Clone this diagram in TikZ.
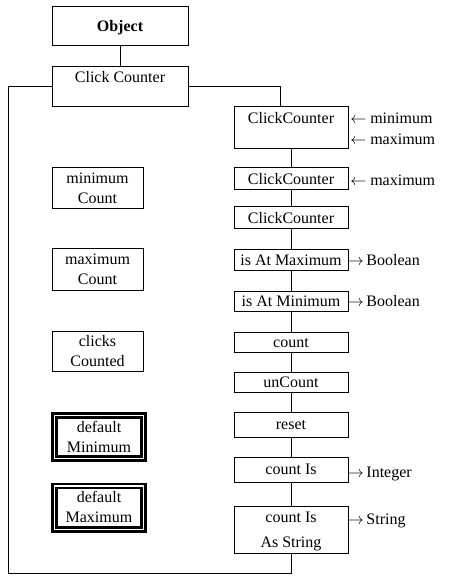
\documentclass[tikz,border=0pt]{standalone}
\usepackage{fontspec}
\setmainfont{Liberation Serif}
\begin{document}
\begin{tikzpicture}[x=0.75pt,y=-0.75pt,
  every node/.style={font=\fontsize{12}{15}\selectfont},
  box/.style={draw,line width=0.75pt,rectangle,inner sep=1pt,text height=2ex,text depth=.3ex},
  rbox/.style={box,minimum width=85.5pt},
  two/.style={text height={15pt+2ex},text depth=.3ex},
  lbox/.style={draw,line width=0.75pt,rectangle,inner sep=1pt,minimum width=68.25pt,align=center,two},
  dbox/.style={draw,line width=1.9pt,double,double distance=1.1pt,rectangle,inner sep=1pt,minimum width=67pt,minimum height=32.6pt,align=center,two},
  note/.style={anchor=west,inner sep=0pt,text height=2ex,text depth=.3ex},
  conn/.style={line width=0.75pt}]
\useasboundingbox (0,0) rectangle (449,580);
% top
\node[box,minimum width=102pt,minimum height=29.25pt,font=\fontsize{12}{15}\selectfont\bfseries] (obj) at (120,26.5) {Object};
\node[draw,line width=0.75pt,minimum width=102pt,minimum height=30pt] (cls) at (120,87) {};
\node[inner sep=0pt,text height=2ex,text depth=.3ex] (clst) at (120,77) {Click Counter};
% right column
\node[draw,line width=0.75pt,minimum width=85.5pt,minimum height=31.5pt] (cc1) at (291,128) {};
\node[inner sep=0pt,text height=2ex,text depth=.3ex] (cc1t) at (291,118) {ClickCounter};
\node[rbox,minimum height=16.5pt] (cc2) at (291,179) {ClickCounter};
\node[rbox,minimum height=16.5pt] (cc3) at (291,218) {ClickCounter};
\node[rbox,minimum height=15.5pt] (imax) at (291,260) {is At Maximum};
\node[rbox,minimum height=15pt] (imin) at (291,301) {is At Minimum};
\node[rbox,minimum height=15pt] (cnt) at (291,342) {count};
\node[rbox,minimum height=15pt] (ucnt) at (291,382) {unCount};
\node[rbox,minimum height=18.75pt] (rst) at (291,424.5) {reset};
\node[rbox,minimum height=18.75pt] (cis) at (291,469.5) {count Is};
\node[draw,line width=0.75pt,minimum width=85.5pt,minimum height=34.5pt,align=center,font=\fontsize{12}{18.75}\selectfont,text height={18.75pt+2ex},text depth=.3ex] (cias) at (291,530) {count Is\\As String};
% annotations
\node[note] (n1) at (350,118) {$\leftarrow$ minimum};
\node[note] (n2) at (350,139) {$\leftarrow$ maximum};
\node[note] (n3) at (350,180) {$\leftarrow$ maximum};
\node[note] (n4) at (347.5,260) {$\rightarrow$\,Boolean};
\node[note] (n5) at (347.5,301) {$\rightarrow$\,Boolean};
\node[note] (n6) at (347.5,472) {$\rightarrow$\,Integer};
\node[note] (n7) at (347.5,519) {$\rightarrow$\,String};
% left column
\node[lbox,minimum height=30.75pt] (minc) at (97.5,188.5) {minimum\\Count};
\node[lbox,minimum height=30.75pt] (maxc) at (97.5,269.5) {maximum\\Count};
\node[lbox,minimum height=30pt] (clk) at (97.5,351.5) {clicks\\Counted};
\node[dbox] (dmin) at (99,437) {default\\Minimum};
\node[dbox] (dmax) at (99,507.5) {default\\Maximum};
% connectors
\coordinate (bl) at (8,573);
\coordinate (cc1in) at (280,107);
\draw[conn] (obj.south) -- (cls.north);
\draw[conn] (cls.west) -| (bl) -| (cias.south);
\draw[conn] (cls.east) -| (cc1in);
\draw[conn] (cc1.south) -- (cc2.north);
\draw[conn] (cc2.south) -- (cc3.north);
\draw[conn] (cc3.south) -- (imax.north);
\draw[conn] (imax.south) -- (imin.north);
\draw[conn] (imin.south) -- (cnt.north);
\draw[conn] (cnt.south) -- (ucnt.north);
\draw[conn] (ucnt.south) -- (rst.north);
\draw[conn] (rst.south) -- (cis.north);
\draw[conn] (cis.south) -- (cias.north);
\end{tikzpicture}
\end{document}
